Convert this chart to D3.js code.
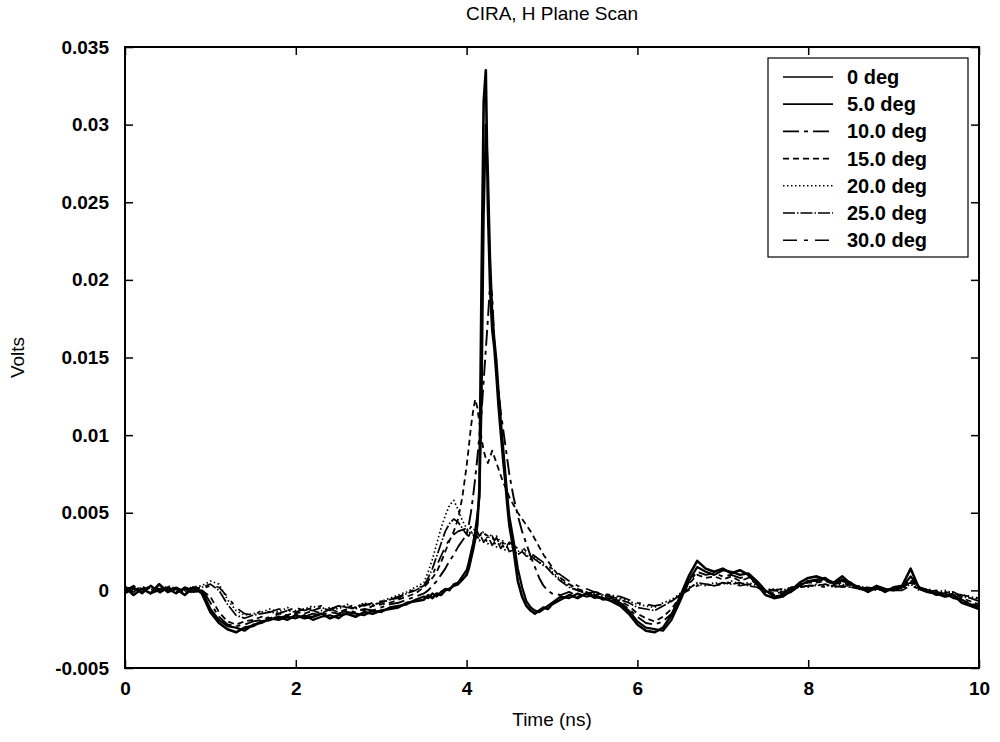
<!DOCTYPE html>
<html>
<head>
<meta charset="utf-8">
<script src="https://cdn.jsdelivr.net/npm/d3@7"></script>
<style>
  body { margin: 0; background: #fff; }
  text { font-family: "Liberation Sans", Arial, Helvetica, sans-serif; fill: #000; }
</style>
</head>
<body>
<div id="app"></div>
<script>
// sample times (ns) - finer around the pulse
const timeNs = [
  0.0, 0.1, 0.2, 0.3, 0.4, 0.5, 0.6, 0.7, 0.8, 0.9, 1.0, 1.1, 1.2, 1.3, 1.4, 1.5, 1.6, 1.7, 1.8, 1.9,
  2.0, 2.1, 2.2, 2.3, 2.4, 2.5, 2.6, 2.7, 2.8, 2.9, 3.0, 3.1, 3.2, 3.3, 3.4,
  3.5, 3.55, 3.6, 3.65, 3.7, 3.75, 3.8, 3.85, 3.9, 3.95,
  4.0, 4.025, 4.05, 4.075, 4.1, 4.125, 4.15, 4.175, 4.2, 4.225, 4.25, 4.275, 4.3, 4.325, 4.35, 4.375, 4.4, 4.425, 4.45, 4.475, 4.5,
  4.55, 4.6, 4.65, 4.7, 4.75, 4.8, 4.85, 4.9, 4.95, 5.0,
  5.1, 5.2, 5.3, 5.4, 5.5, 5.6, 5.7, 5.8, 5.9, 6.0, 6.1, 6.2, 6.3, 6.4, 6.5, 6.6, 6.7, 6.8, 6.9, 7.0,
  7.1, 7.2, 7.3, 7.4, 7.5, 7.6, 7.7, 7.8, 7.9, 8.0, 8.1, 8.2, 8.3, 8.4, 8.5, 8.6, 8.7, 8.8, 8.9, 9.0,
  9.1, 9.2, 9.3, 9.4, 9.5, 9.6, 9.7, 9.8, 9.9, 10.0
];

// values in millivolts, one array per angle
const deg0 = [
  0.2,-0.3,0.1,-0.2,0.4,-0.1,0.1,-0.3,0.2,-0.2,-1.4,-2.1,-2.5,-2.7,-2.4,-2.3,-2.0,-1.9,-1.7,-1.9,-1.6,-1.8,-1.7,-1.5,-1.8,-1.6,-1.5,-1.7,-1.4,-1.5,-1.3,-1.2,-1.1,-0.8,-0.7,
  -0.6,-0.3,-0.5,-0.2,-0.3,0.0,0.1,0.3,0.4,0.7,
  1.0,1.4,2.0,2.6,3.3,4.2,6.5,20.0,31.5,33.5,24.5,19.5,16.8,15.6,13.8,11.8,10.2,8.6,7.2,5.6,4.2,
  2.6,0.6,-0.4,-1.0,-1.3,-1.5,-1.3,-1.1,-1.2,-0.9,
  -0.6,-0.3,-0.5,-0.2,-0.4,-0.5,-0.7,-1.0,-1.5,-2.2,-2.6,-2.7,-2.4,-1.6,-0.4,0.9,1.9,1.4,1.2,1.4,
  1.1,1.3,1.0,0.4,-0.3,-0.5,-0.4,0.0,0.5,0.8,0.9,0.7,0.5,0.9,0.4,0.2,-0.1,0.2,-0.1,0.2,
  0.3,1.4,0.1,-0.1,-0.2,-0.4,-0.3,-0.8,-1.0,-1.2
];
const deg5 = [
  -0.1,0.2,-0.2,0.3,-0.1,0.1,-0.2,0.2,-0.1,0.0,-1.2,-1.9,-2.3,-2.4,-2.6,-2.2,-2.1,-1.8,-1.9,-1.7,-1.8,-1.6,-1.9,-1.7,-1.6,-1.8,-1.4,-1.5,-1.6,-1.3,-1.4,-1.1,-1.0,-0.9,-0.6,
  -0.4,-0.5,-0.2,-0.4,-0.1,0.1,0.0,0.4,0.5,0.9,
  1.3,1.8,2.4,3.0,3.8,4.8,6.0,12.0,24.0,30.0,27.0,21.5,18.0,16.2,14.8,12.8,11.0,9.4,7.8,6.2,4.8,
  3.2,1.4,0.2,-0.7,-1.1,-1.3,-1.4,-1.2,-1.0,-0.8,
  -0.4,-0.5,-0.2,-0.4,-0.3,-0.6,-0.5,-0.9,-1.3,-2.0,-2.4,-2.5,-2.6,-1.9,-0.7,0.6,1.5,1.2,1.0,1.3,
  1.2,1.0,1.1,0.6,0.0,-0.4,-0.3,-0.1,0.3,0.6,0.7,0.8,0.4,0.7,0.5,0.1,0.0,0.3,0.1,0.0,
  0.2,0.9,0.2,0.0,-0.3,-0.2,-0.5,-0.6,-0.9,-1.0
];
const deg10 = [
  0.1,-0.1,0.3,-0.2,0.0,0.2,-0.1,0.1,-0.2,0.1,-0.8,-1.7,-2.2,-2.3,-2.2,-2.0,-1.9,-1.7,-1.8,-1.6,-1.5,-1.7,-1.5,-1.6,-1.4,-1.5,-1.3,-1.4,-1.2,-1.3,-1.1,-0.9,-0.8,-0.6,-0.4,
  -0.2,0.0,0.3,0.6,1.0,1.4,1.9,2.3,2.8,3.2,
  3.6,4.2,5.0,6.0,7.2,8.5,10.0,11.5,13.5,15.5,17.5,19.8,19.0,16.0,14.0,12.8,11.5,10.5,9.5,8.5,7.5,
  6.0,4.8,3.8,3.0,2.2,1.5,0.8,0.3,0.0,-0.2,
  -0.3,-0.1,-0.4,-0.2,-0.5,-0.4,-0.6,-0.8,-1.2,-1.7,-2.1,-2.2,-2.0,-1.5,-0.5,0.5,1.2,1.0,1.1,0.9,
  1.0,0.8,0.9,0.5,-0.1,-0.3,-0.2,0.1,0.4,0.6,0.6,0.7,0.5,0.6,0.4,0.2,0.0,0.1,0.0,0.1,
  0.2,0.7,0.1,-0.1,-0.2,-0.4,-0.3,-0.7,-0.8,-1.1
];
const deg15 = [
  -0.2,0.1,0.0,0.3,-0.2,0.2,0.0,-0.1,0.3,0.0,-0.4,-1.4,-2.0,-2.2,-2.0,-1.9,-1.7,-1.8,-1.5,-1.6,-1.4,-1.5,-1.3,-1.5,-1.2,-1.4,-1.2,-1.1,-1.3,-1.0,-0.9,-0.8,-0.6,-0.4,-0.2,
  0.2,0.5,0.8,1.2,1.8,2.5,3.2,3.8,4.6,6.0,
  8.0,9.2,10.5,11.5,12.3,11.8,10.8,9.8,9.0,8.5,8.2,8.6,9.0,8.6,8.2,7.8,7.4,7.0,6.7,6.4,6.0,
  5.5,5.0,4.6,4.2,3.8,3.3,2.8,2.3,1.9,1.5,
  0.8,0.4,0.1,-0.1,-0.3,-0.2,-0.5,-0.7,-1.0,-1.5,-1.8,-2.0,-1.7,-1.2,-0.4,0.4,1.0,0.8,0.9,0.7,
  0.9,0.6,0.8,0.4,-0.1,-0.2,-0.1,0.2,0.3,0.5,0.5,0.6,0.4,0.5,0.3,0.2,0.1,0.2,0.0,0.1,
  0.1,0.6,0.2,0.0,-0.1,-0.3,-0.2,-0.5,-0.7,-0.9
];
const deg20 = [
  0.3,0.0,0.2,0.1,-0.1,0.3,0.1,0.0,0.2,0.3,0.6,0.4,-0.6,-1.3,-1.6,-1.5,-1.4,-1.2,-1.4,-1.1,-1.3,-1.2,-1.0,-1.3,-1.1,-1.2,-0.9,-1.1,-0.8,-1.0,-0.7,-0.5,-0.3,-0.1,0.2,
  0.5,1.2,2.0,3.0,4.0,4.8,5.5,5.8,5.2,4.5,
  4.0,3.8,3.6,3.8,4.0,3.7,3.5,3.6,3.8,3.5,3.3,3.6,3.4,3.2,3.5,3.3,3.0,3.2,3.0,2.8,3.0,
  2.7,2.5,2.6,2.3,2.0,2.1,1.8,1.6,1.5,1.2,
  0.7,0.3,0.0,-0.1,-0.2,-0.4,-0.3,-0.5,-0.7,-0.9,-1.0,-1.1,-0.8,-0.6,-0.2,0.2,0.4,0.3,0.5,0.4,
  0.6,0.4,0.5,0.3,0.0,0.1,0.0,0.2,0.3,0.2,0.4,0.3,0.3,0.4,0.2,0.3,0.1,0.2,0.0,0.1,
  0.1,0.4,0.0,0.1,-0.1,0.0,-0.2,-0.3,-0.4,-0.6
];
const deg25 = [
  0.0,0.3,-0.1,0.2,0.1,0.0,0.2,-0.1,0.1,0.2,0.4,0.0,-0.9,-1.6,-1.8,-1.6,-1.5,-1.4,-1.5,-1.3,-1.4,-1.2,-1.3,-1.1,-1.3,-1.0,-1.1,-1.2,-0.9,-0.9,-0.8,-0.6,-0.5,-0.2,0.0,
  0.3,0.8,1.4,2.2,3.0,3.8,4.3,4.6,4.4,4.0,
  3.6,3.5,3.8,3.6,3.3,3.5,3.2,3.4,3.1,3.3,3.0,3.2,2.9,3.1,2.8,3.0,2.7,2.9,2.6,2.8,2.5,
  2.6,2.3,2.5,2.2,2.3,2.0,1.8,1.7,1.4,1.1,
  0.6,0.2,0.0,-0.2,-0.1,-0.3,-0.4,-0.6,-0.8,-1.1,-1.2,-1.3,-1.0,-0.7,-0.3,0.1,0.5,0.4,0.3,0.5,
  0.4,0.5,0.3,0.2,-0.1,0.0,-0.1,0.1,0.2,0.3,0.3,0.4,0.2,0.3,0.2,0.1,0.2,0.1,0.0,0.0,
  0.2,0.5,0.1,0.0,-0.1,-0.2,-0.1,-0.4,-0.5,-0.7
];
const deg30 = [
  0.2,0.1,0.0,0.2,0.1,0.2,-0.1,0.2,0.0,0.1,0.3,0.2,-0.4,-1.1,-1.5,-1.6,-1.3,-1.4,-1.2,-1.3,-1.1,-1.3,-1.1,-1.0,-1.2,-1.0,-1.1,-0.9,-1.0,-0.8,-0.7,-0.6,-0.4,-0.2,0.1,
  0.3,0.6,1.0,1.6,2.2,2.8,3.3,3.6,3.8,3.9,
  4.0,3.8,4.1,3.9,3.6,3.8,3.5,3.7,3.4,3.6,3.5,3.3,3.5,3.2,3.4,3.1,3.3,3.0,3.2,2.9,3.1,
  2.9,2.7,2.8,2.5,2.4,2.2,2.0,1.8,1.6,1.4,
  1.0,0.6,0.3,0.1,-0.1,-0.2,-0.3,-0.4,-0.6,-0.8,-0.9,-1.0,-0.9,-0.7,-0.3,0.0,0.3,0.4,0.3,0.4,
  0.5,0.3,0.4,0.2,0.1,0.0,0.1,0.1,0.2,0.3,0.3,0.2,0.3,0.2,0.3,0.1,0.2,0.0,0.1,0.0,
  0.0,0.3,0.1,-0.1,0.0,-0.1,-0.2,-0.3,-0.4,-0.5
];

const seriesNames = ["0 deg", "5.0 deg", "10.0 deg", "15.0 deg", "20.0 deg", "25.0 deg", "30.0 deg"];
const seriesValues = [deg0, deg5, deg10, deg15, deg20, deg25, deg30];
const xTicks = [0, 2, 4, 6, 8, 10];
const yTicks = [-0.005, 0, 0.005, 0.01, 0.015, 0.02, 0.025, 0.03, 0.035];

// line styles per series
const dashes = ["", "", "16,5,4,5", "6,4", "1.5,2.5", "12,2,1.5,2", "14,7,4,7"];
const widths = [2.6, 2.2, 1.9, 1.8, 1.7, 1.7, 1.7];
const legendWidths = [1.6, 1.8, 1.6, 1.6, 1.4, 1.4, 1.4];

const margin = { top: 47, right: 21, bottom: 74, left: 125 };
const W = 1000, H = 742;
const width = W - margin.left - margin.right;
const height = H - margin.top - margin.bottom;

const svg = d3.select("#app").append("svg")
  .attr("width", W)
  .attr("height", H);

const g = svg.append("g").attr("transform", `translate(${margin.left},${margin.top})`);

const x = d3.scaleLinear().domain([0, 10]).range([0, width]);
const y = d3.scaleLinear().domain([-0.005, 0.035]).range([height, 0]);

g.append("defs").append("clipPath").attr("id", "clip")
  .append("rect").attr("width", width).attr("height", height);

// traces
const line = d3.line()
  .x(d => x(d[0]))
  .y(d => y(d[1] / 1000));

seriesValues.forEach((vals, i) => {
  const pts = timeNs.map((t, k) => [t, vals[k]]);
  g.append("path")
    .datum(pts)
    .attr("clip-path", "url(#clip)")
    .attr("fill", "none")
    .attr("stroke", "#000")
    .attr("stroke-width", widths[i])
    .attr("stroke-dasharray", dashes[i] || null)
    .attr("stroke-linejoin", "round")
    .attr("d", line);
});

// axes, ticks pointing inward
const styleAxis = sel => {
  sel.select(".domain").remove();
  sel.selectAll("line").attr("stroke", "#000").attr("stroke-width", 1.5);
  sel.selectAll("text").attr("font-size", 19).attr("font-weight", "bold");
};

// plain hyphen for negatives, like the original
const yFormat = d => String(+d.toFixed(3));

g.append("g")
  .attr("transform", `translate(0,${height})`)
  .call(d3.axisBottom(x).tickValues(xTicks).tickSizeInner(-8).tickSizeOuter(0).tickPadding(14).tickFormat(d => String(d)))
  .call(styleAxis);

g.append("g")
  .call(d3.axisTop(x).tickValues(xTicks).tickSizeInner(-8).tickSizeOuter(0).tickFormat(""))
  .call(styleAxis);

g.append("g")
  .call(d3.axisLeft(y).tickValues(yTicks).tickSizeInner(-8).tickSizeOuter(0).tickPadding(16).tickFormat(yFormat))
  .call(styleAxis);

g.append("g")
  .attr("transform", `translate(${width},0)`)
  .call(d3.axisRight(y).tickValues(yTicks).tickSizeInner(-8).tickSizeOuter(0).tickFormat(""))
  .call(styleAxis);

// frame
g.append("rect")
  .attr("width", width)
  .attr("height", height)
  .attr("fill", "none")
  .attr("stroke", "#000")
  .attr("stroke-width", 2);

// titles
svg.append("text")
  .attr("x", margin.left + width / 2)
  .attr("y", 20)
  .attr("text-anchor", "middle")
  .attr("font-size", 19)
  .text("CIRA, H Plane Scan");

svg.append("text")
  .attr("x", margin.left + width / 2)
  .attr("y", 726)
  .attr("text-anchor", "middle")
  .attr("font-size", 19)
  .text("Time (ns)");

svg.append("text")
  .attr("transform", `translate(24,${margin.top + height / 2}) rotate(-90)`)
  .attr("text-anchor", "middle")
  .attr("font-size", 19)
  .text("Volts");

// legend
const legend = svg.append("g").attr("transform", "translate(768,58)");
legend.append("rect")
  .attr("width", 200)
  .attr("height", 199)
  .attr("fill", "#fff")
  .attr("stroke", "#000")
  .attr("stroke-width", 1.2);

seriesNames.forEach((name, i) => {
  const yy = 19 + i * 27.2;
  legend.append("line")
    .attr("x1", 15).attr("x2", 65)
    .attr("y1", yy).attr("y2", yy)
    .attr("stroke", "#000")
    .attr("stroke-width", legendWidths[i])
    .attr("stroke-dasharray", dashes[i] || null);
  legend.append("text")
    .attr("x", 79)
    .attr("y", yy + 7)
    .attr("font-size", 20)
    .attr("font-weight", "bold")
    .text(name);
});
</script>
</body>
</html>
